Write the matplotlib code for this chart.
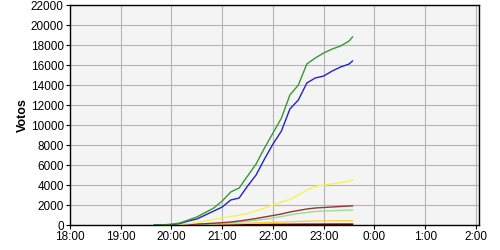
import matplotlib.pyplot as plt

plt.rcParams['font.family'] = ['Liberation Sans', 'DejaVu Sans']

# hours after 18:00
times = [1.667, 1.833, 2.0, 2.167, 2.333, 2.5, 2.667, 2.833, 3.0, 3.167, 3.333, 3.5,
         3.667, 3.833, 4.0, 4.167, 4.333, 4.5, 4.667, 4.833, 5.0, 5.167, 5.333, 5.5, 5.567]

green = [0, 20, 80, 200, 500, 800, 1250, 1700, 2400, 3300, 3700, 4900,
         6100, 7700, 9200, 10700, 13000, 14000, 16100, 16700, 17200, 17600, 17900, 18400, 18800]
blue = [0, 10, 40, 150, 400, 600, 1000, 1400, 1800, 2500, 2700, 3900,
        5000, 6600, 8100, 9400, 11600, 12500, 14200, 14700, 14900, 15400, 15800, 16100, 16400]
yellow = [0, 0, 10, 50, 120, 250, 400, 550, 700, 850, 1000, 1150,
          1400, 1700, 2000, 2300, 2550, 3000, 3500, 3850, 4000, 4100, 4250, 4400, 4500]
darkred = [0, 0, 5, 20, 50, 90, 130, 180, 230, 300, 400, 520,
           650, 800, 950, 1100, 1300, 1450, 1600, 1700, 1750, 1800, 1850, 1900, 1900]
lightgreen = [0, 0, 0, 10, 30, 60, 90, 130, 170, 220, 300, 380,
              480, 580, 700, 850, 1000, 1150, 1250, 1350, 1400, 1430, 1460, 1500, 1500]
orange = [0, 0, 0, 5, 15, 30, 50, 70, 90, 110, 140, 170,
          200, 230, 260, 290, 320, 350, 380, 400, 410, 420, 430, 430, 430]
maroon = [0, 0, 0, 2, 5, 8, 12, 16, 20, 25, 30, 35,
          40, 45, 50, 55, 60, 65, 70, 72, 75, 78, 80, 80, 80]

hour_labels = ['18:00', '19:00', '20:00', '21:00', '22:00', '23:00', '0:00', '1:00', '2:00']

fig = plt.figure(figsize=(5, 2.5), dpi=100)
ax = fig.add_axes([0.14, 0.1, 0.818, 0.88])
ax.set_facecolor('#f4f4f4')

ax.plot(times, maroon, color='#5a0000', lw=1.2)
ax.plot(times, orange, color='#ffcc44', lw=1)
ax.plot(times, lightgreen, color='#99dd99', lw=1)
ax.plot(times, darkred, color='#993333', lw=1)
ax.plot(times, yellow, color='#f4f450', lw=1)
ax.plot(times, blue, color='#2222cc', lw=1)
ax.plot(times, green, color='#339933', lw=1)

ax.set_xlim(0, 8.06)
ax.set_ylim(0, 22000)
ax.set_xticks(range(9))
ax.set_xticklabels(hour_labels)
ax.set_yticks(range(0, 22001, 2000))
ax.grid(True, color='#b4b4b4', lw=0.8)
ax.set_axisbelow(True)
ax.tick_params(labelsize=8.5, length=3, width=0.8, pad=1.5)
for s in ax.spines.values():
    s.set_linewidth(1)
ax.set_ylabel('Votos', fontsize=9, fontweight='bold', labelpad=1)

fig.savefig('out.png', dpi=100)
